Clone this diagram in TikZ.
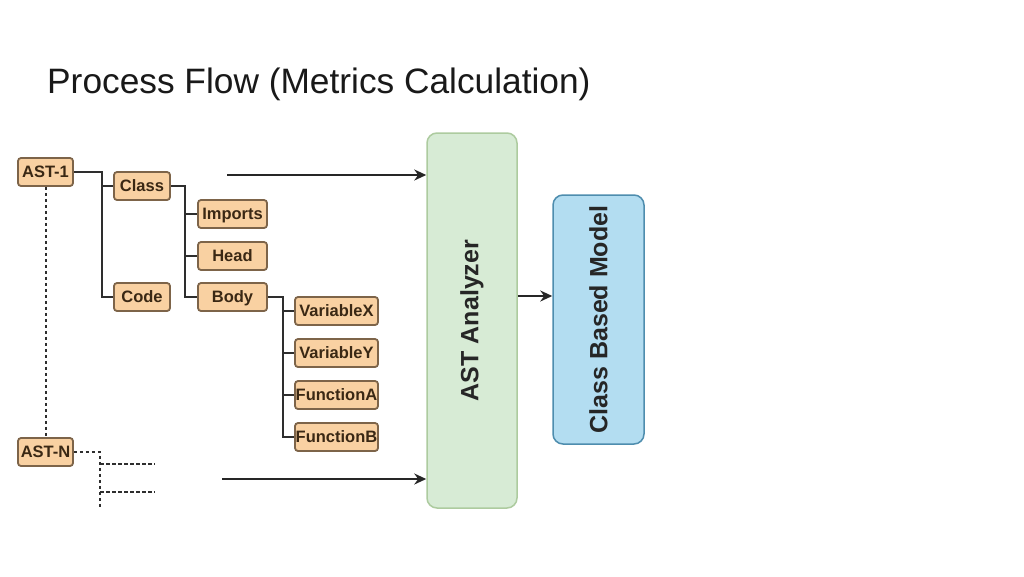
\documentclass[tikz,border=0pt]{standalone}
\usepackage{fontspec}
\setmainfont{Liberation Sans}
\usetikzlibrary{arrows.meta,calc}
\definecolor{ofill}{HTML}{F9D1A2}
\definecolor{odraw}{HTML}{7D6449}
\definecolor{otext}{HTML}{3A2814}
\definecolor{gfill}{HTML}{D7EBD5}
\definecolor{gdraw}{HTML}{ADCB9F}
\definecolor{bfill}{HTML}{B3DDF1}
\definecolor{bdraw}{HTML}{4E8DAE}
\definecolor{lcol}{HTML}{2E2E2E}
\begin{document}
\begin{tikzpicture}[x=1pt,y=-1pt,
  tnode/.style={draw=odraw, fill=ofill, line width=1.8pt, rounded corners=3pt,
    minimum height=28pt, inner sep=0pt, text=otext, text height=11.8pt, text depth=0pt,
    font=\fontsize{16.5}{16.5}\selectfont\bfseries},
  wa/.style={tnode, minimum width=55pt},
  wb/.style={tnode, minimum width=56pt},
  wc/.style={tnode, minimum width=69pt},
  wd/.style={tnode, minimum width=83pt},
  tree/.style={draw=lcol, line width=2pt},
  dtree/.style={draw=lcol, line width=2pt, dash pattern=on 3.5pt off 2.5pt},
  arr/.style={draw=black!85, line width=2pt, -{Stealth[length=12pt,width=11pt]}},
  bigtext/.style={rotate=90, font=\fontsize{25}{25}\selectfont\bfseries, text=black!85}
]
\useasboundingbox (0,0) rectangle (1024,576);
\fill[white] (0,0) rectangle (1024,576);

% title
\node[anchor=base west, inner sep=0pt, font=\fontsize{35.3}{35.3}\selectfont, text=black!90] (title) at (47,93) {Process Flow (Metrics Calculation)};

% tree nodes
\node[wa] (ast1) at (45.5,172) {AST-1};
\node[wb] (class) at (142,186) {Class};
\node[wb] (code) at (142,297) {Code};
\node[wc] (imports) at (232.5,214) {Imports};
\node[wc] (head) at (232.5,256) {Head};
\node[wc] (body) at (232.5,297) {Body};
\node[wd] (vx) at (336.5,311) {VariableX};
\node[wd] (vy) at (336.5,353) {VariableY};
\node[wd] (fa) at (336.5,395) {FunctionA};
\node[wd] (fb) at (336.5,437) {FunctionB};
\node[wa] (astn) at (45.5,452) {AST-N};

% tree connectors
\draw[tree] (ast1.east) -- ++(28,0) coordinate (j1) |- (code.west);
\draw[tree] (j1 |- class.west) -- (class.west);
\draw[tree] (class.east) -- ++(14,0) coordinate (j2) |- (body.west);
\draw[tree] (j2 |- imports.west) -- (imports.west);
\draw[tree] (j2 |- head.west) -- (head.west);
\draw[tree] (body.east) -- ++(15,0) coordinate (j3) |- (fb.west);
\draw[tree] (j3 |- vx.west) -- (vx.west);
\draw[tree] (j3 |- vy.west) -- (vy.west);
\draw[tree] (j3 |- fa.west) -- (fa.west);

% dashed parts
\draw[dtree] (ast1.south) -- (astn.north);
\coordinate (dend) at (100,507);
\coordinate (d1) at (155,464);
\coordinate (d2) at (155,492);
\draw[dtree] (astn.east) -| (dend);
\draw[dtree] (dend |- d1) -- (d1);
\draw[dtree] (dend |- d2) -- (d2);

% analyzer and model
\node[draw=gdraw, fill=gfill, line width=1.5pt, rounded corners=10pt,
  minimum width=90pt, minimum height=375pt, inner sep=0pt] (ana) at (472,320.5) {};
\node[bigtext] (anatext) at (ana.center) {AST Analyzer};
\node[draw=bdraw, fill=bfill, line width=1.5pt, rounded corners=10pt,
  minimum width=91pt, minimum height=249pt, inner sep=0pt] (cbm) at (598.5,319.5) {};
\node[bigtext] (cbmtext) at (cbm.center) {Class Based Model};

% arrows
\coordinate (s1) at (227,175);
\coordinate (s2) at (222,479);
\coordinate (m) at (530,296);
\draw[arr] (s1) -- (s1 -| ana.west);
\draw[arr] (s2) -- (s2 -| ana.west);
\draw[arr] (ana.east |- m) -- (cbm.west |- m);
\end{tikzpicture}
\end{document}
